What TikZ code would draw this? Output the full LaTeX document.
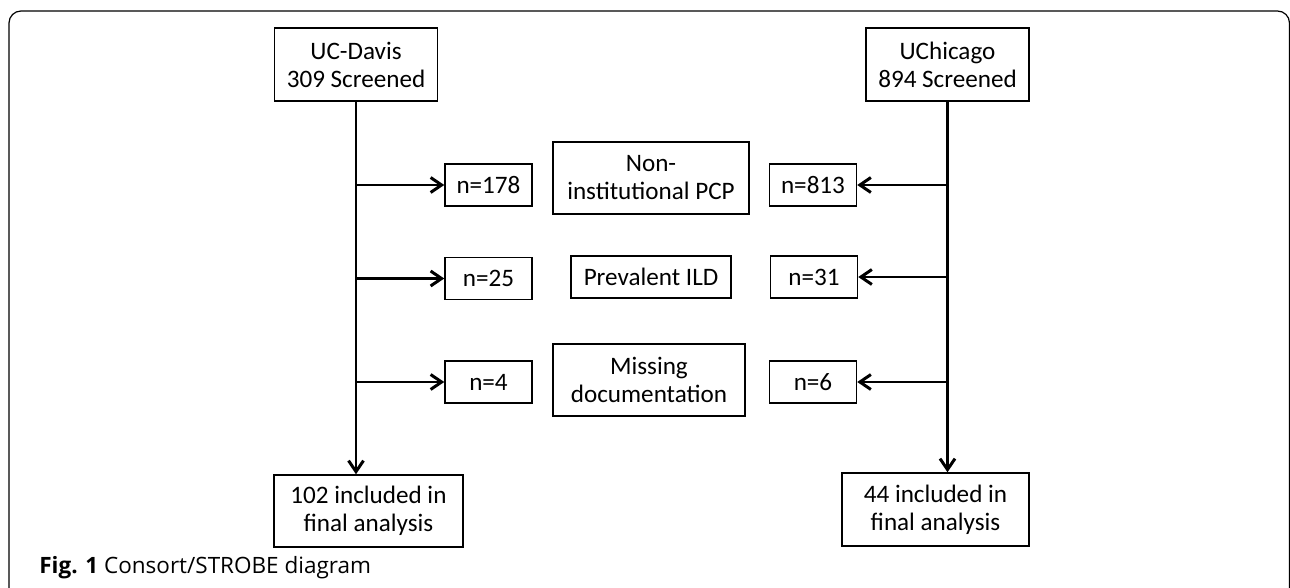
\documentclass[tikz,border=0pt]{standalone}
\usepackage{fontspec}
\setmainfont{Carlito}
\newfontfamily\capfont{Open Sans}
\usetikzlibrary{arrows.meta, positioning}

\begin{document}
\begin{tikzpicture}[
    box/.style={rectangle, draw, line width=0.85pt, align=center, inner sep=2pt,
                font=\fontsize{14.3}{15.9}\selectfont},
    sitebox/.style={box, minimum width=3.26cm, minimum height=1.46cm},
    nbox/.style={box, minimum width=1.74cm, minimum height=0.84cm},
    arr/.style={-{Straight Barb[length=2.2mm, width=3mm]}, line width=1.7pt},
]
\useasboundingbox (0,0) rectangle (25.8,-11.76);

% Outer frame
\draw[line width=0.7pt, rounded corners=0.24cm] (0.18,-12) |- (25.79,-0.22) -- (25.79,-12);

% Sites
\node[sitebox] (davis)   at (7.12,-1.29)  {UC-Davis\\309 Screened};
\node[sitebox] (chicago) at (18.95,-1.29) {UChicago\\894 Screened};

% Exclusion reasons
\node[box, minimum width=3.92cm, minimum height=1.44cm] (pcp)  at (13.02,-3.56) {Non-\\institutional PCP};
\node[box, minimum width=3.20cm, minimum height=0.84cm] (ild)  at (13.02,-5.54) {Prevalent ILD};
\node[box, minimum width=3.84cm, minimum height=1.44cm] (miss) at (12.98,-7.60) {Missing\\documentation};

% Counts
\node[nbox] (n178) at (9.77,-3.70)  {n=178};
\node[nbox] (n813) at (16.26,-3.70) {n=813};
\node[nbox] (n25)  at (9.77,-5.57)  {n=25};
\node[nbox] (n31)  at (16.28,-5.54) {n=31};
\node[nbox] (n4)   at (9.77,-7.64)  {n=4};
\node[nbox] (n6)   at (16.26,-7.64) {n=6};

% Final
\node[box, minimum width=3.78cm, minimum height=1.44cm] (davisend)   at (7.37,-10.22)  {102 included in\\final analysis};
\node[box, minimum width=3.74cm, minimum height=1.46cm] (chicagoend) at (18.71,-10.19) {44 included in\\final analysis};

% Caption
\node[anchor=base west, inner sep=0pt, font=\capfont\fontsize{12.8}{14}\selectfont] (cap) at (0.78,-11.47)
    {\textbf{Fig. 1} Consort/STROBE diagram};

% Trunks
\draw[arr] (davis.south)   -- (davis.south |- davisend.north);
\draw[arr] (chicago.south) -- (chicago.south |- chicagoend.north);

% Branches
\draw[arr] (davis.south |- n178.west) -- (n178.west);
\draw[arr] (davis.south |- n25.west)  -- (n25.west);
\draw[arr] (davis.south |- n4.west)   -- (n4.west);
\draw[arr] (chicago.south |- n813.east) -- (n813.east);
\draw[arr] (chicago.south |- n31.east)  -- (n31.east);
\draw[arr] (chicago.south |- n6.east)   -- (n6.east);
\end{tikzpicture}
\end{document}
